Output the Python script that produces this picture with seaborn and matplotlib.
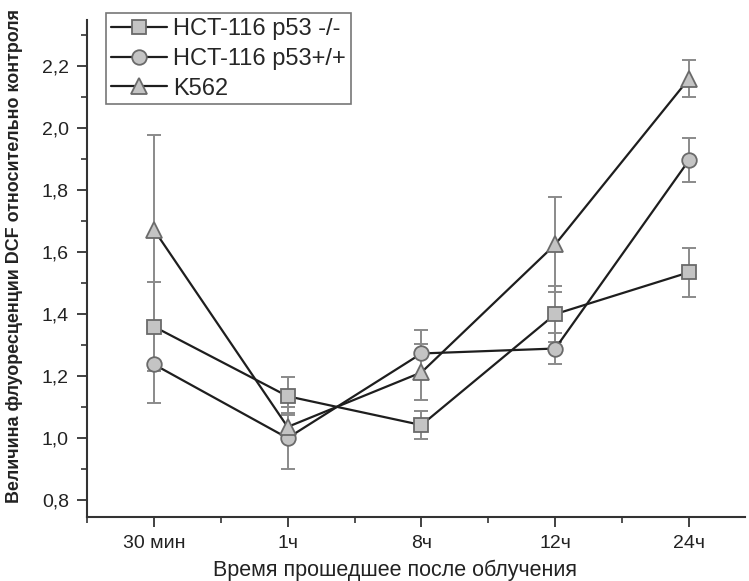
"""DCF fluorescence relative to control after irradiation"""

import pandas as pd
import seaborn as sns
import matplotlib.pyplot as plt
from matplotlib.ticker import MultipleLocator, FixedLocator

sns.set_theme(style="ticks")
plt.rcParams["font.family"] = ["Liberation Sans", "DejaVu Sans"]

times = ["30 мин", "1ч", "8ч", "12ч", "24ч"]
series_names = ["HCT-116 p53 -/-", "HCT-116 p53+/+", "K562"]

p53_ko = [1.36, 1.135, 1.042, 1.40, 1.535]
p53_ko_err = [0.145, 0.062, 0.045, 0.09, 0.08]
p53_wt = [1.238, 1.0, 1.273, 1.289, 1.897]
p53_wt_err = [0.124, 0.10, 0.075, 0.05, 0.071]
k562 = [1.673, 1.036, 1.212, 1.625, 2.16]
k562_err = [0.306, 0.045, 0.09, 0.152, 0.059]

markers = ["s", "o", "^"]
marker_sizes = [10, 10.5, 12]

df = pd.DataFrame({
    "time": times * 3,
    "value": p53_ko + p53_wt + k562,
    "err": p53_ko_err + p53_wt_err + k562_err,
    "series": [n for n in series_names for _ in times],
})

fig = plt.figure(figsize=(7.49, 5.81), dpi=100)
ax = fig.add_axes([0.116, 0.110, 0.879, 0.856])

for name, marker, ms in zip(series_names, markers, marker_sizes):
    sub = df[df["series"] == name]
    pos = [times.index(t) for t in sub["time"]]
    ax.errorbar(pos, sub["value"], yerr=sub["err"], fmt="none", ecolor="#8a8a8a",
                elinewidth=1.4, capsize=5, capthick=1.4, zorder=1)
    sns.lineplot(data=sub, x="time", y="value", sort=False, ax=ax, label=name,
                 color="#1e1e1e", linewidth=1.6, marker=marker, markersize=ms,
                 markerfacecolor="#c4c4c4", markeredgecolor="#6a6a6a",
                 markeredgewidth=1.3, zorder=3)

ax.set_xlim(-0.5, 4.42)
ax.set_ylim(0.745, 2.35)
ax.yaxis.set_major_locator(FixedLocator([0.8, 1.0, 1.2, 1.4, 1.6, 1.8, 2.0, 2.2]))
ax.yaxis.set_minor_locator(MultipleLocator(0.1))
ax.xaxis.set_minor_locator(FixedLocator([-0.5, 0.5, 1.5, 2.5, 3.5]))
ax.set_yticklabels(["0,8", "1,0", "1,2", "1,4", "1,6", "1,8", "2,0", "2,2"])

sns.despine(ax=ax)
for side in ["left", "bottom"]:
    ax.spines[side].set_color("#333333")
    ax.spines[side].set_linewidth(1.5)
ax.tick_params(which="major", length=7, width=1.3, color="#333333",
               labelsize=14, labelcolor="#222222", pad=6)
ax.tick_params(which="minor", length=4, width=1.2, color="#333333")

ax.set_xlabel("Время прошедшее после облучения", fontsize=15.5, color="#222222")
ax.xaxis.set_label_coords(0.468, -0.085)
ax.set_ylabel("Величина флуоресценции DCF относительно контроля", fontsize=12.9,
              fontweight="bold", color="#222222")
ax.yaxis.set_label_coords(-0.097, 0.525)

leg = ax.legend(loc="upper left", bbox_to_anchor=(0.018, 1.027), fontsize=17,
                frameon=True, fancybox=False, edgecolor="#555555",
                handlelength=2.4, handletextpad=0.25, borderpad=0.2,
                labelspacing=0.33, borderaxespad=0.3)
leg.get_frame().set_linewidth(1.2)

fig.savefig("out.png", dpi=100)
